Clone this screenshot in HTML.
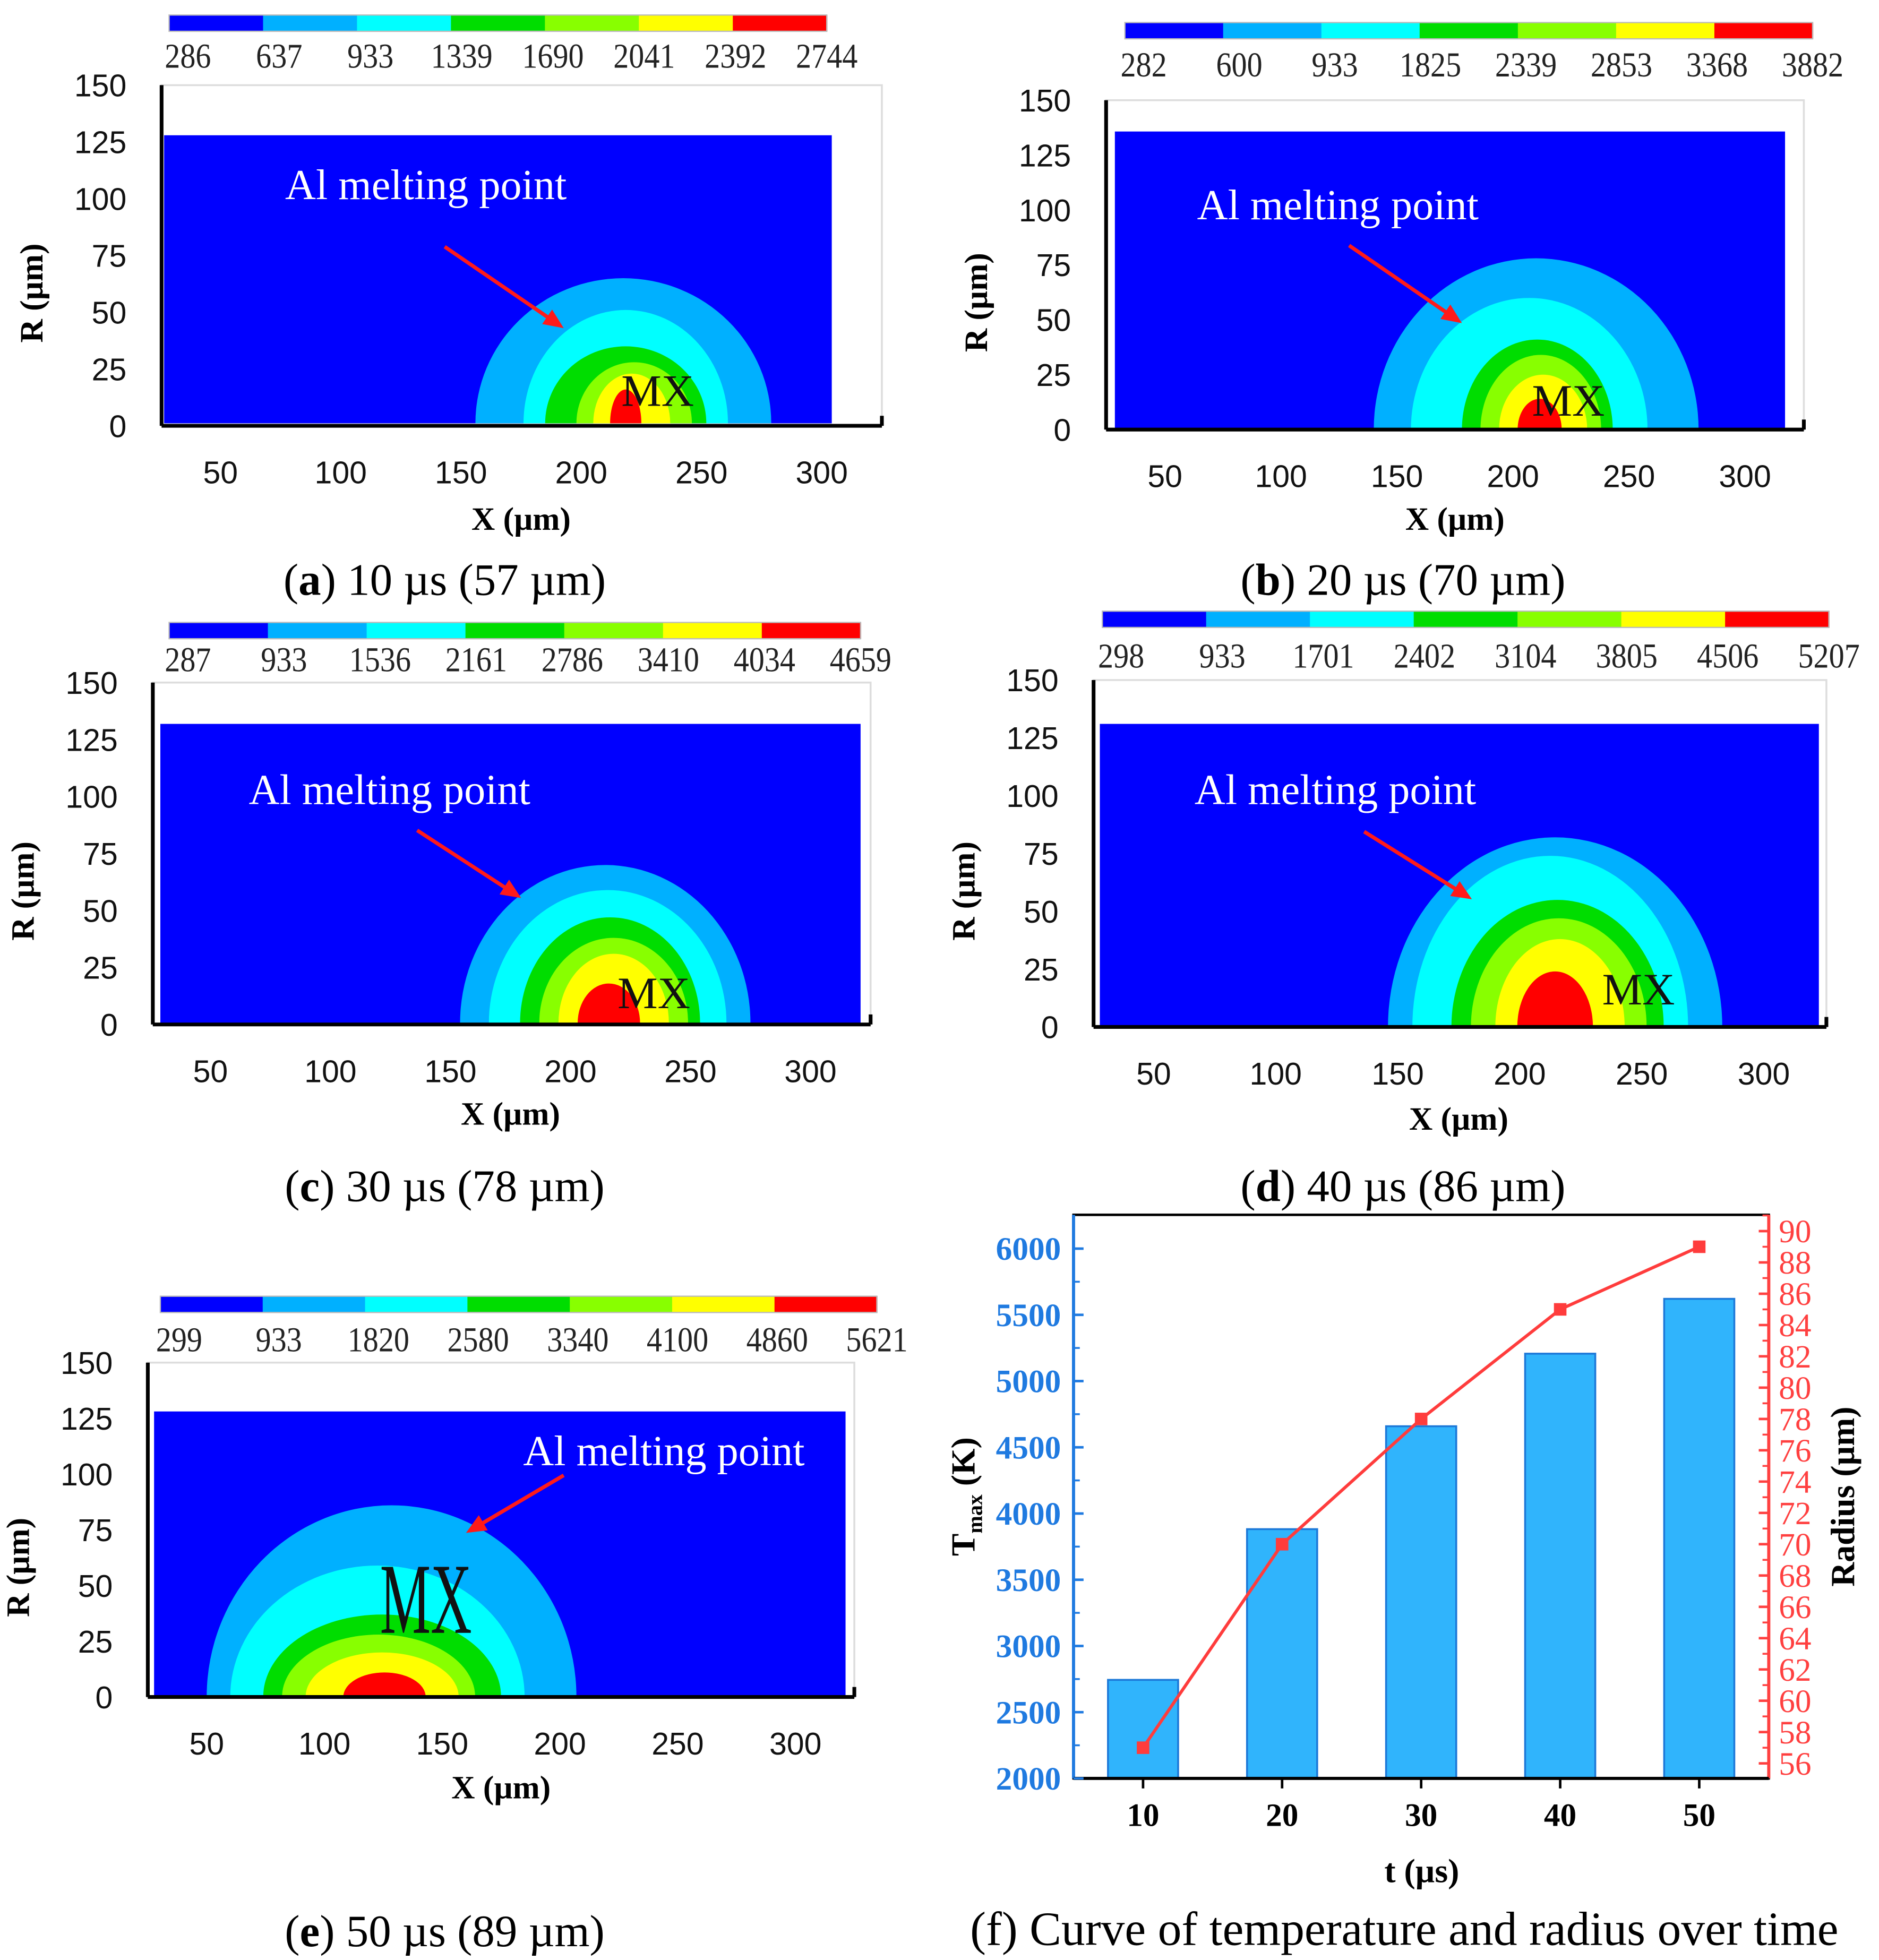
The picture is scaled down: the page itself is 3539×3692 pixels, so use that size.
<!DOCTYPE html>
<html><head><meta charset="utf-8"><style>
html,body{margin:0;padding:0;background:#fff;}
svg{display:block;}
</style></head><body>
<svg id="fig" width="3539" height="3692" viewBox="0 0 1500 1565" preserveAspectRatio="none" xmlns="http://www.w3.org/2000/svg"></svg>
<script>
const NS='http://www.w3.org/2000/svg';
const svg=document.getElementById('fig');
function el(tag,attrs,parent,text){const e=document.createElementNS(NS,tag);for(const k in attrs)e.setAttribute(k,attrs[k]);if(text!==undefined)e.textContent=text;(parent||svg).appendChild(e);return e;}
const levelColors=['#00b0ff','#00ffff','#00dd00','#88ff00','#ffff00','#ff0000'];
const barColors=['#0000ff','#00b0ff','#00ffff','#00dd00','#88ff00','#ffff00','#ff0000'];
const rTicks=[0,25,50,75,100,125,150];
const xTicks=[50,100,150,200,250,300];
const cbA=['286','637','933','1339','1690','2041','2392','2744'];
const cbB=['282','600','933','1825','2339','2853','3368','3882'];
const cbC=['287','933','1536','2161','2786','3410','4034','4659'];
const cbD=['298','933','1701','2402','3104','3805','4506','5207'];
const cbE=['299','933','1820','2580','3340','4100','4860','5621'];
// contour extents per panel (µm): [xLeft, xRight, heightR]
const zonesA=[[156,279,65],[176,261,51],[185,252,35],[198,246,28],[205,237,23],[212,225,16]];
const zonesB=[[140,280,78],[156,258,60],[178,243,41],[186,238,34],[194,232,25],[202,221,14]];
const zonesC=[[154,275,70],[166,265,59],[179,254,47],[187,249,38],[195,241,31],[203,229,18]];
const zonesD=[[146,283,82],[156,269,74],[172,259,55],[180,252,47],[190,243,38],[199,230,24]];
const zonesE=[[50,207,86],[60,185,59],[74,175,37],[82,164,28],[92,157,20],[108,143,11]];
const panels=[
 {name:'a',cb:cbA,cbx:[135,660],cby:12,cbl:45,ax:129,ay0:68,ay1:340,rect:[131,108,664,338],xEnd:704,x50:176,x300:656,zones:zonesA,txt:[340,148,'middle'],arrow:[355,197,450,262],mx:[525,312],xl:414,cap:[355,463,'a','10 µs (57 µm)']},
 {name:'b',cb:cbB,cbx:[898,1447],cby:18,cbl:52,ax:883,ay0:80,ay1:343,rect:[890,105,1425,343],xEnd:1440,x50:930,x300:1393,zones:zonesB,txt:[1068,164,'middle'],arrow:[1077,196,1167,258],mx:[1252,320],xl:414,cap:[1120,463,'b','20 µs (70 µm)']},
 {name:'c',cb:cbC,cbx:[135,687],cby:497,cbl:527,ax:122,ay0:545,ay1:818,rect:[128,578,687,817],xEnd:695,x50:168,x300:647,zones:zonesC,txt:[311,631,'middle'],arrow:[333,663,416,717],mx:[522,793],xl:889,cap:[355,947,'c','30 µs (78 µm)']},
 {name:'d',cb:cbD,cbx:[880,1460],cby:488,cbl:524,ax:873,ay0:543,ay1:820,rect:[878,578,1452,820],xEnd:1458,x50:921,x300:1408,zones:zonesD,txt:[1066,631,'middle'],arrow:[1089,664,1175,718],mx:[1308,790],xl:893,cap:[1120,947,'d','40 µs (86 µm)']},
 {name:'e',cb:cbE,cbx:[128,700],cby:1035,cbl:1070,ax:118,ay0:1088,ay1:1355,rect:[123,1127,675,1355],xEnd:682,x50:165,x300:635,zones:zonesE,txt:[530,1159,'middle'],arrow:[450,1178,372,1224],mx:[340,1290],xl:1427,cap:[355,1542,'e','50 µs (89 µm)']}
];
panels.forEach(p=>{
 const g=el('g',{});
 const sx=v=>p.x50+(v-50)*(p.x300-p.x50)/250;
 const sy=v=>p.ay1-(v)*(p.ay1-p.ay0)/150;
 const cg=el('g',{},g);
 const w=(p.cbx[1]-p.cbx[0])/7;
 barColors.forEach((c,i)=>{const r=el('rect',{x:p.cbx[0]+i*w,y:p.cby,width:w+0.5,height:13,fill:c},cg);});
 el('rect',{x:p.cbx[0],y:p.cby,width:p.cbx[1]-p.cbx[0],height:13,fill:'none',stroke:'#bbb','stroke-width':1},cg);
 const sp=(p.cbx[1]-p.cbx[0]-15)/7;
 p.cb.forEach((t,i)=>{const tx=el('text',{x:p.cbx[0]+15+i*sp,y:p.cbl+9,'text-anchor':'middle','font-family':'Liberation Serif, serif','font-size':28,fill:'#222',transform:`translate(${p.cbx[0]+15+i*sp},0) scale(0.88,1) translate(${-(p.cbx[0]+15+i*sp)},0)`},cg,t);});
 const r=el('rect',{x:p.rect[0],y:p.rect[1],width:p.rect[2]-p.rect[0],height:p.rect[3]-p.rect[1],fill:'#0000ff'},g);
 
 el('rect',{x:p.ax,y:p.ay0,width:p.xEnd-p.ax,height:p.ay1-p.ay0,fill:'none',stroke:'#ddd','stroke-width':1.5},g);
 const base=p.rect[3];
 p.zones.forEach((z,i)=>{const xl=sx(z[0]),xr=sx(z[1]),top=sy(z[2]);const rx=(xr-xl)/2,ry=base-top;
  const pa=el('path',{d:`M${xl},${base} A${rx},${ry} 0 0 1 ${xr},${base} Z`,fill:levelColors[i]},g);
  });
 el('line',{x1:p.ax,y1:p.ay0,x2:p.ax,y2:p.ay1,stroke:'#000','stroke-width':3},g);
 el('line',{x1:p.ax,y1:p.ay1,x2:p.xEnd,y2:p.ay1,stroke:'#000','stroke-width':3},g);
 el('line',{x1:p.xEnd,y1:p.ay1,x2:p.xEnd,y2:p.ay1-8,stroke:'#000','stroke-width':3},g);
 rTicks.forEach(v=>{const t=el('text',{x:p.ax-28,y:sy(v)+9,'text-anchor':'end','font-family':'Liberation Sans Narrow, Liberation Sans, sans-serif','font-size':25,fill:'#111'},g,String(v));});
 xTicks.forEach(v=>{const t=el('text',{x:sx(v),y:p.ay1+46,'text-anchor':'middle','font-family':'Liberation Sans Narrow, Liberation Sans, sans-serif','font-size':25,fill:'#111'},g,String(v));});
 const yt=el('text',{x:0,y:0,transform:`translate(${p.ax-95},${(p.ay0+p.ay1)/2+30}) rotate(-90)`,'text-anchor':'middle','font-family':'Liberation Serif, serif','font-weight':'bold','font-size':26},g,'R (µm)');
 
 const xt=el('text',{x:(p.x50+p.x300)/2,y:p.xl+9,'text-anchor':'middle','font-family':'Liberation Serif, serif','font-weight':'bold','font-size':26},g,'X (µm)');
 
 const at=el('text',{x:p.txt[0],y:p.txt[1]+11,'text-anchor':p.txt[2],'font-family':'Liberation Serif, serif','font-size':34,fill:'#fff'},g,'Al melting point');
 
 const [x1,y1,x2,y2]=p.arrow;const ang=Math.atan2(y2-y1,x2-x1);
 el('line',{x1,y1,x2:x2-12*Math.cos(ang),y2:y2-12*Math.sin(ang),stroke:'#ff1a1a','stroke-width':3},g);
 const h=16,wd=7;const bx=x2-h*Math.cos(ang),by=y2-h*Math.sin(ang);
 const ar=el('polygon',{points:`${x2},${y2} ${bx-wd*Math.sin(ang)},${by+wd*Math.cos(ang)} ${bx+wd*Math.sin(ang)},${by-wd*Math.cos(ang)}`,fill:'#ff1a1a'},g);
 
 const mx=el('text',{x:p.mx[0],y:p.mx[1]+12,'text-anchor':'middle','font-family':'Liberation Serif, serif','font-size':p.name==='e'?70:36,transform:p.name==='e'?`translate(${p.mx[0]},${p.mx[1]}) scale(0.65,1.15) translate(${-p.mx[0]},${-p.mx[1]})`:'' ,fill:'#111'},g,'MX');
 
 const cap=el('text',{x:p.cap[0],y:p.cap[1]+12,'text-anchor':'middle','font-family':'Liberation Serif, serif','font-size':36},g);
 
 el('tspan',{},cap,'(');el('tspan',{'font-weight':'bold'},cap,p.cap[2]);el('tspan',{},cap,') '+p.cap[3]);
});
</script>
<script>
// Panel f chart data
const times=[10,20,30,40,50];
const tmaxValues=[2744,3882,4659,5207,5621];
const radiusValues=[57,70,78,85,89];
const leftTicks=[2000,2500,3000,3500,4000,4500,5000,5500,6000];
const rightTicks=[56,58,60,62,64,66,68,70,72,74,76,78,80,82,84,86,88,90];
(function(){
 const g=el('g',{});
 const L=857,R=1412,T=970,B=1420;
 const xS=t=>L+(t-5)*(R-L)/50;
 const yL=v=>1420-(v-2000)*(1420-997)/4000;
 const yR=v=>1408-(v-56)*(1408-983)/34;
 el('rect',{x:L,y:T,width:R-L,height:B-T,fill:'none',stroke:'#000','stroke-width':2},g);
 times.forEach((t,i)=>{const b=el('rect',{x:xS(t)-28,y:yL(tmaxValues[i]),width:56,height:B-yL(tmaxValues[i]),fill:'#30b4fc',stroke:'#1c78d8','stroke-width':1.5},g);
  });
 el('line',{x1:L,y1:T,x2:L,y2:B,stroke:'#1f7ae0','stroke-width':2.5},g);
 el('line',{x1:R,y1:T,x2:R,y2:B,stroke:'#ff4040','stroke-width':2.5},g);
 el('line',{x1:L,y1:B,x2:R,y2:B,stroke:'#000','stroke-width':2.5},g);
 leftTicks.forEach((v,i)=>{el('line',{x1:L,y1:yL(v),x2:L+8,y2:yL(v),stroke:'#1f7ae0','stroke-width':2},g);
  if(i<leftTicks.length-1){const m=yL(v+250);el('line',{x1:L,y1:m,x2:L+5,y2:m,stroke:'#1f7ae0','stroke-width':1.5},g);}
  const t=el('text',{x:L-10,y:yL(v)+9,'text-anchor':'end','font-family':'Liberation Serif, serif','font-weight':'bold','font-size':26,fill:'#1f7ae0'},g,String(v));
  });
 rightTicks.forEach((v,i)=>{el('line',{x1:R,y1:yR(v),x2:R-8,y2:yR(v),stroke:'#ff4040','stroke-width':2},g);
  el('line',{x1:R,y1:yR(v+1),x2:R-5,y2:yR(v+1),stroke:'#ff4040','stroke-width':1.5},g);
  const t=el('text',{x:R+8,y:yR(v)+9,'font-family':'Liberation Serif, serif','font-size':26,fill:'#ff4040'},g,String(v));
  });
 times.forEach(t=>{el('line',{x1:xS(t),y1:B,x2:xS(t),y2:B+8,stroke:'#000','stroke-width':2},g);
  const tx=el('text',{x:xS(t),y:B+38,'text-anchor':'middle','font-family':'Liberation Serif, serif','font-weight':'bold','font-size':26},g,String(t));
  });
 const pts=times.map((t,i)=>xS(t)+','+yR(radiusValues[i])).join(' ');
 const ln=el('polyline',{points:pts,fill:'none',stroke:'#ff3c3c','stroke-width':2.5},g);
 
 times.forEach((t,i)=>{const m=el('rect',{x:xS(t)-5,y:yR(radiusValues[i])-5,width:10,height:10,fill:'#ff3c3c'},g);
  });
 const yt=el('text',{transform:'translate(778,1195) rotate(-90)','text-anchor':'middle','font-family':'Liberation Serif, serif','font-weight':'bold','font-size':27},g);
 
 el('tspan',{},yt,'T');el('tspan',{'font-size':17,dy:6},yt,'max');el('tspan',{dy:-6},yt,' (K)');
 const rt=el('text',{transform:'translate(1480,1195) rotate(-90)','text-anchor':'middle','font-family':'Liberation Serif, serif','font-weight':'bold','font-size':27},g,'Radius (µm)');
 
 const xt=el('text',{x:1135,y:1503,'text-anchor':'middle','font-family':'Liberation Serif, serif','font-weight':'bold','font-size':27},g,'t (µs)');
 
 const cap=el('text',{x:1121,y:1553,'text-anchor':'middle','font-family':'Liberation Serif, serif','font-size':38},g,'(f) Curve of temperature and radius over time');
 
})();
</script>
</body></html>
